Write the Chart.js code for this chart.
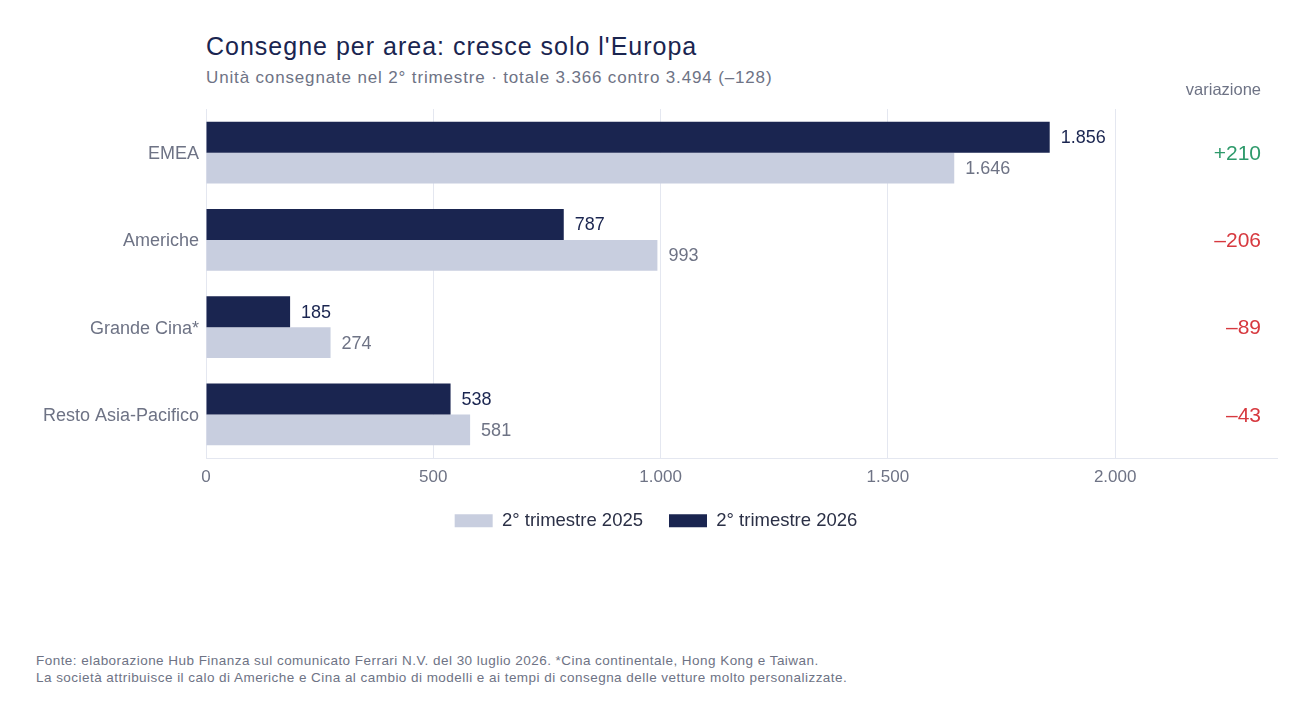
<!DOCTYPE html>
<html lang="it">
<head>
<meta charset="utf-8">
<title>Consegne per area</title>
<script src="https://cdn.jsdelivr.net/npm/chart.js@4.4.1/dist/chart.umd.min.js"></script>
<style>
  html, body { margin: 0; padding: 0; background: #fff; }
  body {
    width: 1312px; height: 721px; position: relative; overflow: hidden;
    font-family: "Liberation Sans", Arial, Helvetica, sans-serif;
  }
  #title {
    position: absolute; left: 206px; top: 34px; margin: 0;
    font-size: 25px; line-height: 25px; font-weight: normal;
    letter-spacing: 1px; color: #1a2550;
  }
  #subtitle {
    position: absolute; left: 206px; top: 69px; margin: 0;
    font-size: 17px; line-height: 17px; letter-spacing: 0.85px; color: #6e7385;
  }
  #chart-box { position: absolute; left: 0; top: 0; width: 1312px; height: 560px; }
  #note {
    position: absolute; left: 36px; top: 652px; margin: 0;
    font-size: 13.5px; line-height: 17px; letter-spacing: 0.46px; color: #6e7385;
  }
</style>
</head>
<body>
<h1 id="title">Consegne per area: cresce solo l'Europa</h1>
<p id="subtitle">Unità consegnate nel 2° trimestre · totale 3.366 contro 3.494 (–128)</p>
<div id="chart-box"><canvas id="bar-chart"></canvas></div>
<p id="note">Fonte: elaborazione Hub Finanza sul comunicato Ferrari N.V. del 30 luglio 2026. *Cina continentale, Hong Kong e Taiwan.<br>La società attribuisce il calo di Americhe e Cina al cambio di modelli e ai tempi di consegna delle vetture molto personalizzate.</p>

<script>
// dati
const areas = ['EMEA', 'Americhe', 'Grande Cina*', 'Resto Asia-Pacifico'];
const q2_2025 = [1646, 993, 274, 581];
const q2_2026 = [1856, 787, 185, 538];
const xTicks = [0, 500, 1000, 1500, 2000];
const xMax = 2356;

const NAVY = '#1a2550';
const LIGHT = '#c8cedf';
const GREY = '#6e7385';
const GRID = '#e4e7f0';
const FONT = '"Liberation Sans", Arial, Helvetica, sans-serif';

// 1856 -> "1.856"
function fmt(v) {
  return String(Math.abs(v)).replace(/\B(?=(\d{3})+(?!\d))/g, '.');
}

// etichette a fine barra + colonna "variazione"
const barLabels = {
  id: 'barLabels',
  afterDatasetsDraw(chart) {
    const ctx = chart.ctx;
    const area = chart.chartArea;
    const yScale = chart.scales.y;
    ctx.save();
    ctx.textBaseline = 'middle';
    ctx.textAlign = 'left';
    ctx.font = '18px ' + FONT;
    chart.data.datasets.forEach((ds, i) => {
      const meta = chart.getDatasetMeta(i);
      ctx.fillStyle = ds.labelColor;
      meta.data.forEach((bar, j) => {
        ctx.fillText(fmt(ds.data[j]), bar.x + 11, bar.y + 1);
      });
    });

    ctx.textAlign = 'right';
    const colX = area.right - 16;
    ctx.fillStyle = GREY;
    ctx.font = '16.5px ' + FONT;
    ctx.fillText('variazione', colX, 90);
    ctx.font = '21px ' + FONT;
    areas.forEach((a, j) => {
      const d = q2_2026[j] - q2_2025[j];
      ctx.fillStyle = d >= 0 ? '#2e9a6b' : '#d7393f';
      ctx.fillText((d >= 0 ? '+' : '–') + fmt(d), colX, yScale.getPixelForValue(j) + 1.5);
    });
    ctx.restore();
  }
};

const ctx = document.getElementById('bar-chart').getContext('2d');
new Chart(ctx, {
  type: 'bar',
  data: {
    labels: areas,
    datasets: [
      { label: '2° trimestre 2026', data: q2_2026, backgroundColor: NAVY, labelColor: NAVY },
      { label: '2° trimestre 2025', data: q2_2025, backgroundColor: LIGHT, labelColor: GREY }
    ]
  },
  options: {
    indexAxis: 'y',
    responsive: true,
    maintainAspectRatio: false,
    animation: false,
    categoryPercentage: 0.71,
    barPercentage: 1,
    layout: { padding: { left: 35, right: 35, top: 109, bottom: 20 } },
    scales: {
      x: {
        min: 0,
        max: xMax,
        afterBuildTicks: s => { s.ticks = xTicks.map(v => ({ value: v })); },
        afterFit: s => { s.height = 27.5; },
        grid: { color: GRID, drawTicks: false },
        border: { color: GRID },
        ticks: {
          padding: 9.5,
          color: GREY,
          font: { family: FONT, size: 17 },
          callback: v => fmt(v)
        }
      },
      y: {
        afterFit: s => { s.width = 171; },
        grid: { display: false, drawTicks: false },
        border: { color: GRID },
        ticks: { padding: 7, labelOffset: 1.5, color: GREY, font: { family: FONT, size: 18 } }
      }
    },
    plugins: {
      legend: {
        position: 'bottom',
        reverse: true,
        labels: {
          boxWidth: 38,
          boxHeight: 13,
          padding: 26,
          color: '#2b3046',
          font: { family: FONT, size: 18.5 }
        }
      },
      tooltip: { enabled: false }
    }
  },
  plugins: [barLabels]
});
</script>
</body>
</html>
